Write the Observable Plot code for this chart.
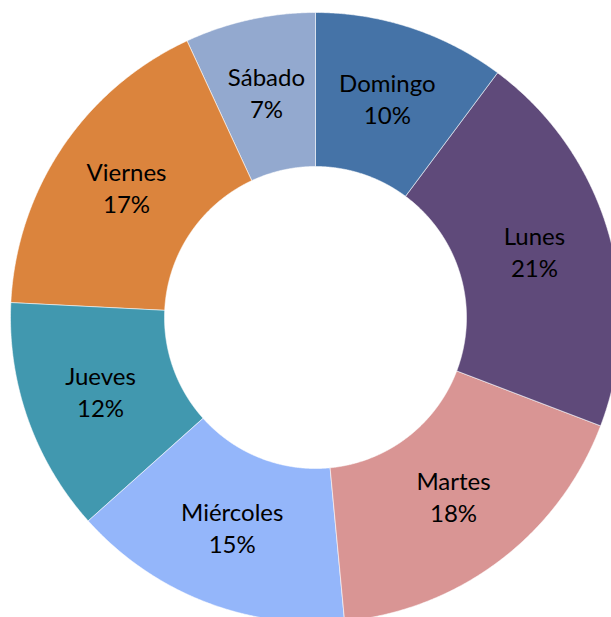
<!DOCTYPE html>
<html>
<head>
<meta charset="utf-8">
<script src="https://cdn.jsdelivr.net/npm/d3@7"></script>
<script src="https://cdn.jsdelivr.net/npm/@observablehq/plot@0.6"></script>
<style>
  html, body { margin: 0; padding: 0; background: #fff; }
  #chart svg { display: block; }
</style>
</head>
<body>
<div id="chart"></div>
<script>
const days = ["Domingo", "Lunes", "Martes", "Miércoles", "Jueves", "Viernes", "Sábado"];
const shares = [10.2, 20.6, 17.7, 14.9, 12.4, 17.3, 6.9];
const colors = ["#4573A7", "#5F4A7A", "#D99594", "#94B6FA", "#4198AF", "#DB843D", "#93A9CF"];

const R = 305, r = 151;
const arcs = d3.pie().sort(null).value(d => d)(shares);

const ring = [];
const labels = [];
arcs.forEach((a, i) => {
  const name = days[i];
  const n = Math.max(2, Math.ceil((a.endAngle - a.startAngle) / 0.005));
  for (let k = 0; k <= n; k++) {
    const t = a.startAngle + (a.endAngle - a.startAngle) * k / n;
    ring.push({name, x: R * Math.sin(t), y: R * Math.cos(t)});
  }
  for (let k = n; k >= 0; k--) {
    const t = a.startAngle + (a.endAngle - a.startAngle) * k / n;
    ring.push({name, x: r * Math.sin(t), y: r * Math.cos(t)});
  }
  const m = (a.startAngle + a.endAngle) / 2, rm = (R + r) / 2;
  labels.push({name, x: rm * Math.sin(m), y: rm * Math.cos(m), text: `${name}\n${Math.round(shares[i])}%`});
});

const chart = Plot.plot({
  width: 611,
  height: 617,
  margin: 0,
  style: {fontFamily: "Lato, 'Open Sans', sans-serif", background: "#fff"},
  x: {domain: [-315, 296], axis: null},
  y: {domain: [-300, 317], axis: null},
  color: {domain: days, range: colors},
  marks: [
    Plot.line(ring, {x: "x", y: "y", z: "name", fill: "name", stroke: "#ffffff", strokeWidth: 0.8, strokeOpacity: 0.7, curve: "linear-closed"}),
    Plot.text(labels, {x: "x", y: "y", text: "text", fontSize: 24, lineHeight: 1.34, dy: -3, fill: "#000", fontFamily: "Lato, 'Open Sans', sans-serif"})
  ]
});
document.getElementById("chart").appendChild(chart);
</script>
</body>
</html>
